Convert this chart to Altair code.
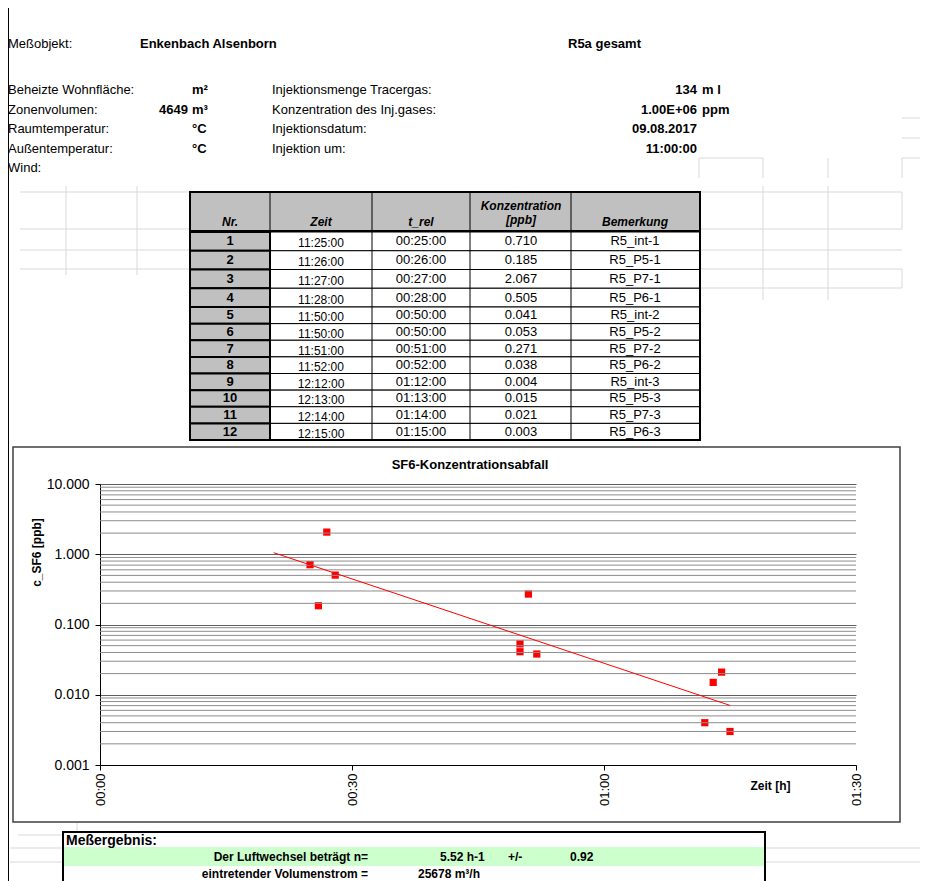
import altair as alt
import pandas as pd

# ---------------- data ----------------
nr = list(range(1, 13))
zeit = ["11:25:00", "11:26:00", "11:27:00", "11:28:00", "11:50:00", "11:50:00",
        "11:51:00", "11:52:00", "12:12:00", "12:13:00", "12:14:00", "12:15:00"]
t_rel = ["00:25:00", "00:26:00", "00:27:00", "00:28:00", "00:50:00", "00:50:00",
         "00:51:00", "00:52:00", "01:12:00", "01:13:00", "01:14:00", "01:15:00"]
konzentration = [0.710, 0.185, 2.067, 0.505, 0.041, 0.053, 0.271, 0.038,
                 0.004, 0.015, 0.021, 0.003]
bemerkung = ["R5_int-1", "R5_P5-1", "R5_P7-1", "R5_P6-1", "R5_int-2", "R5_P5-2",
             "R5_P7-2", "R5_P6-2", "R5_int-3", "R5_P5-3", "R5_P7-3", "R5_P6-3"]

header_left_labels = ["Beheizte Wohnfläche:", "Zonenvolumen:", "Raumtemperatur:",
                      "Außentemperatur:", "Wind:"]
header_left_values = ["", "4649", "", "", ""]
header_left_units = ["m²", "m³", "°C", "°C", ""]
header_mid_labels = ["Injektionsmenge Tracergas:", "Konzentration des Inj.gases:",
                     "Injektionsdatum:", "Injektion um:", ""]
header_mid_values = ["134", "1.00E+06", "09.08.2017", "11:00:00", ""]
header_mid_units = ["m l", "ppm", "", "", ""]

objekt = "Enkenbach Alsenborn"
bereich = "R5a gesamt"
luftwechsel = "5.52"
luftwechsel_err = "0.92"
volumenstrom = "25678"
trend_backward_min = 4.32   # Excel trendline backward forecast (0.003 d)

y_decades = [0.001, 0.01, 0.1, 1, 10]
x_ticks_min = [0, 30, 60, 90]

# ---------------- layout helpers ----------------
FONT = "Liberation Sans"
OX, OY = 100, 484          # plot origin in page pixels
W, H = 756, 281


def px(X):
    return X - OX


def py(Y):
    return Y - OY


one = pd.DataFrame({"k": [0]})


def txt(text, X, Y, size=13, bold=False, italic=False, align="left"):
    return alt.Chart(one).mark_text(
        text=text, font=FONT, fontSize=size,
        fontWeight="bold" if bold else "normal",
        fontStyle="italic" if italic else "normal",
        align=align, baseline="middle", color="black",
    ).encode(x=alt.value(px(X)), y=alt.value(py(Y)))


def box(X1, Y1, X2, Y2, fill="white", stroke="black", sw=1.0, fill_opacity=1.0):
    return alt.Chart(one).mark_rect(
        fill=fill, stroke=stroke, strokeWidth=sw, fillOpacity=fill_opacity
    ).encode(x=alt.value(px(X1)), x2=alt.value(px(X2)),
             y=alt.value(py(Y1)), y2=alt.value(py(Y2)))


# faint spreadsheet cell lines (page pixels)
faint_segments = [
    (20, 192, 190, 192), (20, 229, 190, 229), (20, 250, 190, 250), (20, 269, 190, 269),
    (66, 186, 66, 275), (137, 186, 137, 275),
    (700, 192, 902, 192), (700, 229, 902, 229), (700, 250, 902, 250),
    (700, 269, 902, 269), (700, 288, 902, 288),
    (902, 192, 902, 229), (902, 269, 902, 288),
    (763, 186, 763, 300), (828, 186, 828, 300),
    (902, 118, 920, 118), (902, 138, 920, 138),
    (699, 158, 763, 158), (699, 158, 699, 178), (763, 158, 763, 178),
    (828, 158, 828, 178), (902, 158, 920, 158), (902, 158, 902, 178),
    (18, 835, 63, 835), (10, 848, 63, 848), (10, 862, 63, 862),
    (765, 848, 920, 848), (765, 862, 920, 862), (77, 822, 77, 835),
]
seg_df = pd.DataFrame(
    [{"x": px(a), "y": py(b), "x2": px(c), "y2": py(d)} for a, b, c, d in faint_segments]
)
faint = alt.Chart(seg_df).mark_rule(color="#d9d9d9", strokeWidth=1).encode(
    x=alt.X("x:Q", scale=None, axis=None), x2="x2:Q",
    y=alt.Y("y:Q", scale=None, axis=None), y2="y2:Q",
)

left_line = alt.Chart(one).mark_rule(color="black", strokeWidth=1).encode(
    x=alt.value(px(8.5)), y=alt.value(py(0)), y2=alt.value(py(900)))

# ---------------- header ----------------
hdr = pd.DataFrame({
    "row": list(range(5)),
    "l1": header_left_labels, "v1": header_left_values, "u1": header_left_units,
    "l2": header_mid_labels, "v2": header_mid_values, "u2": header_mid_units,
})
hy = alt.Y("row:Q", scale=alt.Scale(domain=[0, 4], range=[py(90), py(168)]), axis=None)


def hcol(field, X, align, bold):
    return alt.Chart(hdr).mark_text(
        font=FONT, fontSize=13, align=align, baseline="middle", color="black",
        fontWeight="bold" if bold else "normal",
    ).encode(x=alt.value(px(X)), y=hy, text=f"{field}:N")


header_layers = [
    txt("Meßobjekt:", 8, 44),
    txt(objekt, 140, 44, bold=True),
    txt(bereich, 568, 44, bold=True),
    hcol("l1", 8, "left", False),
    hcol("v1", 188, "right", True),
    hcol("u1", 192, "left", True),
    hcol("l2", 272, "left", False),
    hcol("v2", 697, "right", True),
    hcol("u2", 702, "left", True),
]

# ---------------- table ----------------
tab = pd.DataFrame({
    "nr": nr, "zeit": zeit, "t_rel": t_rel,
    "konz": [f"{v:.3f}" for v in konzentration], "bem": bemerkung,
})
row_scale = alt.Scale(domain=[0.5, 4.5, 12.5], range=[py(232), py(307), py(440)])
ty = alt.Y("nr:Q", scale=row_scale, axis=None)

col_edges = [190, 270, 372, 470, 571, 700]

body_cells = alt.Chart(tab).transform_calculate(
    y0="datum.nr - 0.5", y1="datum.nr + 0.5"
).mark_rect(fill="white", stroke="black", strokeWidth=1).encode(
    x=alt.value(px(col_edges[1])), x2=alt.value(px(col_edges[-1])),
    y=alt.Y("y0:Q", scale=row_scale, axis=None), y2="y1:Q",
)
nr_cells = alt.Chart(tab).transform_calculate(
    y0="datum.nr - 0.5", y1="datum.nr + 0.5"
).mark_rect(fill="#c0c0c0", stroke="black", strokeWidth=2).encode(
    x=alt.value(px(col_edges[0])), x2=alt.value(px(col_edges[1])),
    y=alt.Y("y0:Q", scale=row_scale, axis=None), y2="y1:Q",
)
dividers = [
    alt.Chart(one).mark_rule(color="black", strokeWidth=1).encode(
        x=alt.value(px(c)), y=alt.value(py(192)), y2=alt.value(py(440)))
    for c in col_edges[1:-1]
]


def tcol(field, X, size=13, bold=False, dy=0):
    return alt.Chart(tab).mark_text(
        font=FONT, fontSize=size, align="center", baseline="middle", color="black",
        fontWeight="bold" if bold else "normal", dy=dy,
    ).encode(x=alt.value(px(X)), y=ty, text=f"{field}:N")


table_layers = [
    box(190, 192, 700, 231, fill="#c0c0c0", sw=2),
    body_cells, nr_cells, *dividers,
    box(190, 192, 700, 440, fill="white", sw=2, fill_opacity=0),
    txt("Nr.", 230, 222, size=12, bold=True, italic=True, align="center"),
    txt("Zeit", 321, 222, size=12, bold=True, italic=True, align="center"),
    txt("t_rel", 421, 222, size=12, bold=True, italic=True, align="center"),
    txt("Konzentration", 521, 206, size=12, bold=True, italic=True, align="center"),
    txt("[ppb]", 521, 220, size=12, bold=True, italic=True, align="center"),
    txt("Bemerkung", 635, 222, size=12, bold=True, italic=True, align="center"),
    tcol("nr", 230, bold=True),
    tcol("zeit", 321, size=12, dy=2),
    tcol("t_rel", 421),
    tcol("konz", 521),
    tcol("bem", 635),
]

# ---------------- chart ----------------
pts = pd.DataFrame({
    "t": [int(s[0:2]) * 60 + int(s[3:5]) for s in t_rel],
    "c": konzentration,
})
xs = alt.Scale(domain=[0, 90], nice=False)
ys = alt.Scale(type="log", domain=[0.001, 10], nice=False)

minor = pd.DataFrame({"g": [m * d for d in y_decades[:-1] for m in range(2, 10)]})
minor_rules = alt.Chart(minor).mark_rule(color="#8c8c8c", strokeWidth=1).encode(
    y=alt.Y("g:Q", scale=ys, axis=None))

x_label = ("(floor(datum.value/60) < 10 ? '0' : '') + floor(datum.value/60) + ':' + "
           "(datum.value % 60 < 10 ? '0' : '') + (datum.value % 60)")

points = alt.Chart(pts).mark_square(size=52, color="#ff0000", opacity=1).encode(
    x=alt.X("t:Q", scale=xs, axis=alt.Axis(
        orient="bottom", values=x_ticks_min, labelExpr=x_label, labelAngle=270,
        grid=False, tickSize=5, labelFontSize=13, labelPadding=3,
        title="Zeit [h]", titleFontSize=12, titleFontWeight="bold",
        titleX=670, titleY=20, titleAlign="center", titleBaseline="middle")),
    y=alt.Y("c:Q", scale=ys, axis=alt.Axis(
        orient="left", values=y_decades, format=".3f", grid=True,
        gridColor="#606060", tickSize=5, labelFontSize=14, labelPadding=6,
        title="c_SF6 [ppb]", titleFontSize=12, titleFontWeight="bold",
        titleAngle=270, titleX=-64, titleY=68, titleAlign="center",
        titleBaseline="middle")),
)

trend = alt.Chart(pts).transform_calculate(
    lc="log(datum.c)"
).transform_regression(
    "t", "lc", method="linear",
    extent=[min(pts["t"]) - trend_backward_min, max(pts["t"])]
).transform_calculate(
    c="exp(datum.lc)"
).mark_line(color="#ff0000", strokeWidth=1).encode(
    x=alt.X("t:Q", scale=xs, axis=None), y=alt.Y("c:Q", scale=ys, axis=None))

chart_layers = [
    box(13, 447, 900, 822, fill="white", stroke="#404040", sw=1.5, fill_opacity=0),
    points, minor_rules, trend,
    txt("SF6-Konzentrationsabfall", 470, 465, size=13, bold=True, align="center"),
]

# ---------------- result box ----------------
result_layers = [
    box(63, 832, 765, 900, fill="white", sw=2),
    box(64, 847, 764, 866, fill="#ccffcc", stroke="#ccffcc", sw=0),
    txt("Meßergebnis:", 66, 841, size=14, bold=True),
    txt("Der Luftwechsel beträgt n=", 368, 857, size=12, bold=True, align="right"),
    txt(f"{luftwechsel} h-1", 440, 857, size=12, bold=True),
    txt("+/-", 508, 857, size=12, bold=True),
    txt(luftwechsel_err, 570, 857, size=12, bold=True),
    txt("eintretender Volumenstrom =", 368, 874, size=12, bold=True, align="right"),
    txt(f"{volumenstrom} m³/h", 418, 874, size=12, bold=True),
]

chart = alt.layer(
    faint, left_line, *header_layers, *table_layers, *chart_layers, *result_layers
).resolve_scale(
    x="independent", y="independent"
).properties(
    width=W, height=H,
    padding={"left": OX - 8, "top": OY - 8, "right": 912 - (OX - 8) - W,
             "bottom": 886 - OY - H},
    autosize=alt.AutoSizeParams(type="none"),
).configure_view(
    stroke=None
).configure_axis(
    labelFont=FONT, titleFont=FONT, labelColor="black", titleColor="black",
    domainColor="black", tickColor="black",
)

chart.save("out.html", embed_options={"renderer": "svg", "actions": False})
